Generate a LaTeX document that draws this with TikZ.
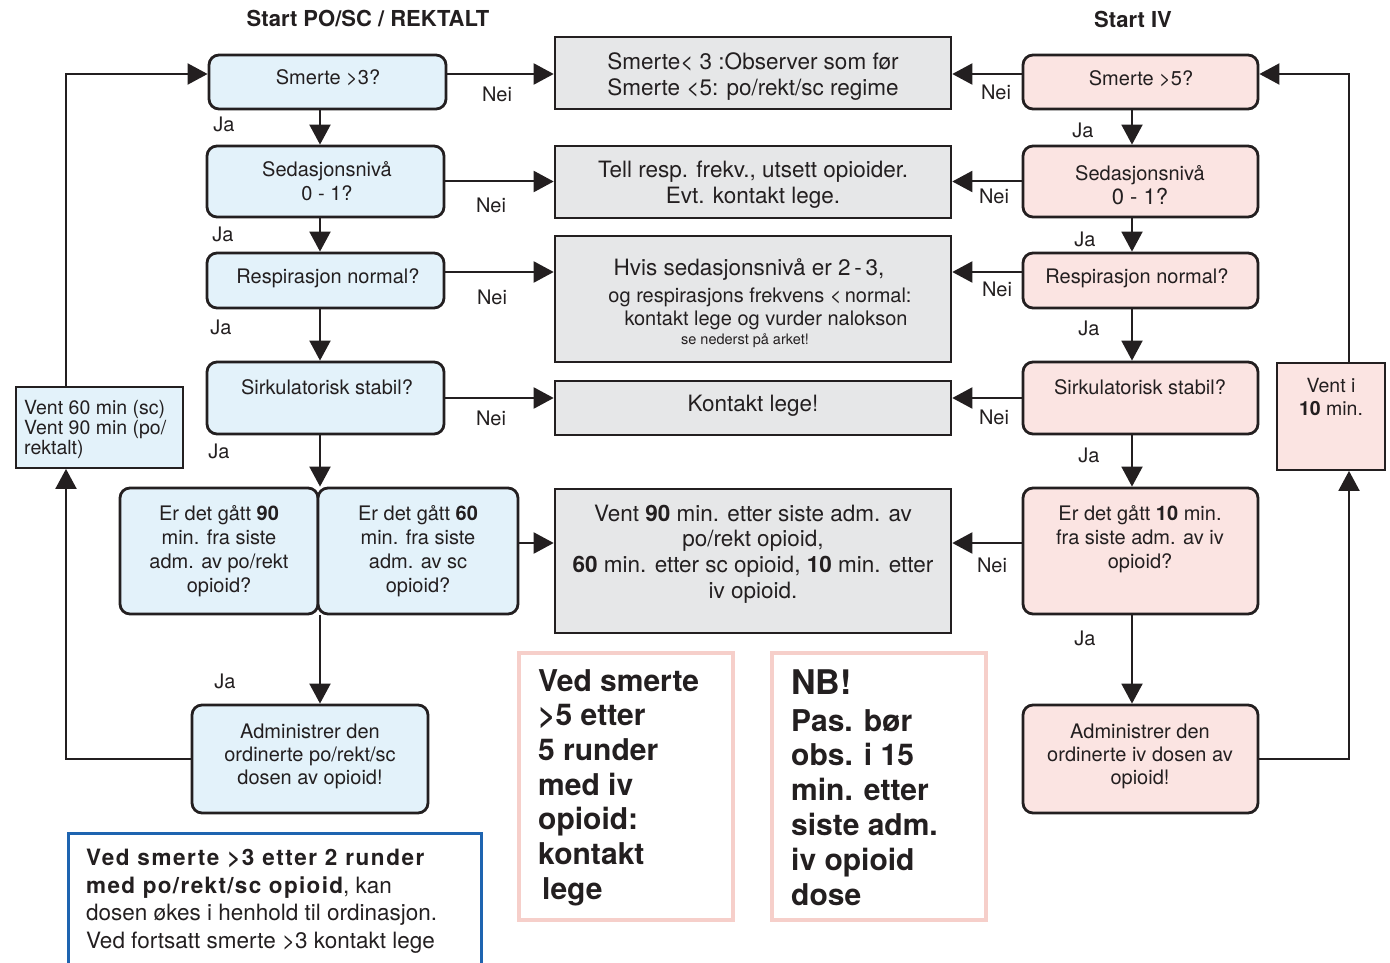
\documentclass[tikz,border=0pt]{standalone}
\usepackage{fontspec}
\setmainfont{TeX Gyre Heros}
\usetikzlibrary{arrows.meta}
\definecolor{bluefill}{HTML}{E3F2FA}
\definecolor{pinkfill}{HTML}{FBE4E2}
\definecolor{greyfill}{HTML}{E6E7E8}
\definecolor{ink}{HTML}{231F20}
\definecolor{blueedge}{HTML}{1E64B0}
\definecolor{pinkedge}{HTML}{F6CFCA}
\newcommand\mkbox[6]{\pgfmathsetmacro\mkbW{#5-#3}\pgfmathsetmacro\mkbH{#6-#4}%
  \node[#1, minimum width=\mkbW pt, minimum height=\mkbH pt] (#2) at ({(#3+#5)/2},{(#4+#6)/2}) {};}
\begin{document}
\begin{tikzpicture}[x=1pt,y=-1pt,
  txt/.style={text=ink, inner sep=0pt, align=center, font=\fontsize{20}{24}\selectfont},
  gtxt/.style={text=ink, inner sep=0pt, align=center, font=\fontsize{22.5}{26}\selectfont},
  lbl/.style={text=ink, inner sep=0pt, font=\fontsize{20}{24}\selectfont},
  ttl/.style={text=ink, inner sep=0pt, font=\fontsize{22}{26}\selectfont\bfseries},
  bluebox/.style={draw=ink, fill=bluefill, line width=2.8pt, rounded corners=10pt, inner sep=0pt},
  pinkbox/.style={bluebox, fill=pinkfill},
  greybox/.style={draw=ink, fill=greyfill, line width=2.6pt, inner sep=0pt},
  waitblue/.style={draw=ink, fill=bluefill, line width=1.8pt, inner sep=0pt},
  waitpink/.style={waitblue, fill=pinkfill},
  notepink/.style={draw=pinkedge, line width=4pt, inner sep=0pt},
  noteblue/.style={draw=blueedge, line width=3pt, inner sep=0pt},
  arr/.style={draw=ink, line width=2pt, -{Triangle[length=20pt,width=21pt]}},
]
\useasboundingbox (0,0) rectangle (1390,963);
% boxes
\mkbox{bluebox}{b1}{209}{55}{446}{109}
\mkbox{bluebox}{b2}{207}{146}{444}{217}
\mkbox{bluebox}{b3}{207}{253}{444}{308}
\mkbox{bluebox}{b4}{207}{362}{444}{434}
\mkbox{bluebox}{b5}{120}{488}{318}{614}
\mkbox{bluebox}{b6}{318}{488}{518}{614}
\mkbox{bluebox}{a1}{192}{705}{428}{813}
\mkbox{waitblue}{v1}{16}{387}{183}{468}
\mkbox{greybox}{g1}{555}{37}{951}{109}
\mkbox{greybox}{g2}{555}{146}{951}{218}
\mkbox{greybox}{g3}{555}{236}{951}{362}
\mkbox{greybox}{g4}{555}{381}{951}{435}
\mkbox{greybox}{g5}{555}{489}{951}{633}
\mkbox{pinkbox}{p1}{1023}{55}{1258}{109}
\mkbox{pinkbox}{p2}{1023}{146}{1258}{217}
\mkbox{pinkbox}{p3}{1023}{253}{1258}{308}
\mkbox{pinkbox}{p4}{1023}{362}{1258}{434}
\mkbox{pinkbox}{p5}{1023}{488}{1258}{614}
\mkbox{pinkbox}{p6}{1023}{705}{1258}{813}
\mkbox{waitpink}{v2}{1277}{363}{1385}{470}
\mkbox{noteblue}{n1}{68}{833}{481}{975}
\mkbox{notepink}{n2}{519}{653}{733}{920}
\mkbox{notepink}{n3}{772}{653}{986}{920}
% lanes
\coordinate (lc) at (320,0);
\coordinate (rc) at (1132,0);
\coordinate (xl) at (66,0);
\coordinate (xr) at (1349,0);
\coordinate (row1) at (0,74);
\coordinate (row3) at (0,272);
\coordinate (row5) at (0,543);
% vertical connectors
\draw[arr] (b1.south -| lc) -- (b2.north -| lc);
\draw[arr] (b2.south -| lc) -- (b3.north -| lc);
\draw[arr] (b3.south -| lc) -- (b4.north -| lc);
\draw[arr] (b4.south -| lc) -- (b5.north -| lc);
\draw[arr] (b5.south -| lc) -- (a1.north -| lc);
\draw[arr] (p1.south -| rc) -- (p2.north -| rc);
\draw[arr] (p2.south -| rc) -- (p3.north -| rc);
\draw[arr] (p3.south -| rc) -- (p4.north -| rc);
\draw[arr] (p4.south -| rc) -- (p5.north -| rc);
\draw[arr] (p5.south -| rc) -- (p6.north -| rc);
% loops
\draw[arr] (a1.west) -| (xl |- v1.south);
\draw[arr] (xl |- v1.north) |- (b1.west |- row1);
\draw[arr] (p6.east) -| (xr |- v2.south);
\draw[arr] (xr |- v2.north) |- (p1.east |- row1);
% Nei connectors
\draw[arr] (b1.east |- row1) -- (g1.west |- row1);
\draw[arr] (b2.east) -- (g2.west |- b2.east);
\draw[arr] (b3.east |- row3) -- (g3.west |- row3);
\draw[arr] (b4.east) -- (g4.west |- b4.east);
\draw[arr] (b6.east |- row5) -- (g5.west |- row5);
\draw[arr] (p1.west |- row1) -- (g1.east |- row1);
\draw[arr] (p2.west) -- (g2.east |- p2.west);
\draw[arr] (p3.west |- row3) -- (g3.east |- row3);
\draw[arr] (p4.west) -- (g4.east |- p4.west);
\draw[arr] (p5.west |- row5) -- (g5.east |- row5);
% titles
\node[ttl] (tl) at (368,19) {Start PO/SC / REKTALT};
\node[ttl] (tr) at (1133,19) {Start IV};
% box texts left
\node[txt] (tb1) at (328,78) {Smerte >3?};
\node[txt] (tb2) at (327,181) {Sedasjonsnivå\\0 - 1?};
\node[txt] (tb3) at (328,278) {Respirasjon normal?};
\node[txt] (tb4) at (327,387) {Sirkulatorisk stabil?};
\node[txt] (tb5) at (219,551) {Er det gått \textbf{90}\\min. fra siste\\adm. av po/rekt\\opioid?};
\node[txt] (tb6) at (418,551) {Er det gått \textbf{60}\\min. fra siste\\adm. av sc\\opioid?};
\node[txt,font=\fontsize{20}{23}\selectfont] (ta1) at (310,756) {Administrer den\\ordinerte po/rekt/sc\\dosen av opioid!};
\node[txt,align=left,anchor=north west,font=\fontsize{19.5}{20}\selectfont] (tv1) at (24,400) {Vent 60 min (sc)\\Vent 90 min (po/\\rektalt)};
% box texts right
\node[txt] (tp1) at (1141,79) {Smerte >5?};
\node[txt] (tp2) at (1140,185) {Sedasjonsnivå\\{\fontsize{22}{26}\selectfont 0 - 1?}};
\node[txt] (tp3) at (1137,278) {Respirasjon normal?};
\node[txt] (tp4) at (1140,387) {Sirkulatorisk stabil?};
\node[txt] (tp5) at (1140,539) {Er det gått \textbf{10} min.\\fra siste adm. av iv\\opioid?};
\node[txt,font=\fontsize{20}{23}\selectfont] (tp6) at (1140,756) {Administrer den\\ordinerte iv dosen av\\opioid!};
\node[txt,font=\fontsize{19.5}{23}\selectfont] (tv2) at (1331,397) {Vent i\\\textbf{10} min.};
% grey texts
\node[gtxt] (tg1) at (753,77) {Smerte< 3 :Observer som før\\Smerte <5: po/rekt/sc regime};
\node[gtxt] (tg2) at (753,185) {Tell resp. frekv., utsett opioider.\\Evt. kontakt lege.};
\node[gtxt] (tg3a) at (749,270) {Hvis sedasjonsnivå er 2\,-\,3,};
\node[txt] (tg3b) at (760,297) {og respirasjons frekvens <\,normal:};
\node[txt] (tg3c) at (766,320) {kontakt lege og vurder nalokson};
\node[txt,font=\fontsize{14.5}{17}\selectfont] (tg3d) at (745,341) {se nederst på arket!};
\node[gtxt] (tg4) at (753,406) {Kontakt lege!};
\node[gtxt,font=\fontsize{22.5}{25.7}\selectfont] (tg5) at (753,554) {Vent \textbf{90} min. etter siste adm. av\\po/rekt opioid,\\\textbf{60} min. etter sc opioid, \textbf{10} min. etter\\iv opioid.};
% Ja / Nei labels
\node[lbl] (j1) at (224,124) {Ja};
\node[lbl] (j2) at (223,234) {Ja};
\node[lbl] (j3) at (221,327) {Ja};
\node[lbl] (j4) at (219,451) {Ja};
\node[lbl] (j5) at (225,681) {Ja};
\node[lbl] (j6) at (1083,130) {Ja};
\node[lbl] (j7) at (1085,239) {Ja};
\node[lbl] (j8) at (1089,328) {Ja};
\node[lbl] (j9) at (1089,455) {Ja};
\node[lbl] (j10) at (1085,638) {Ja};
\node[lbl] (m1) at (497,94) {Nei};
\node[lbl] (m2) at (491,205) {Nei};
\node[lbl] (m3) at (492,297) {Nei};
\node[lbl] (m4) at (491,418) {Nei};
\node[lbl] (m5) at (996,92) {Nei};
\node[lbl] (m6) at (994,196) {Nei};
\node[lbl] (m7) at (997,289) {Nei};
\node[lbl] (m8) at (994,417) {Nei};
\node[lbl] (m9) at (992,565) {Nei};
% notes
\node[text=ink,inner sep=0pt,align=left,anchor=north west,font=\fontsize{22.5}{27.5}\selectfont] (tn1) at (86,849)
 {{\bfseries\addfontfeature{LetterSpace=7}Ved smerte >3 etter 2 runder}\\{\bfseries\addfontfeature{LetterSpace=6}med po/rekt/sc opioid}, kan\\dosen økes i henhold til ordinasjon.\\Ved fortsatt smerte >3 kontakt lege};
\node[text=ink,inner sep=0pt,align=left,anchor=north west,font=\fontsize{30}{34.7}\selectfont\bfseries] (tn2) at (538,669)
 {Ved smerte\\>5 etter\\5 runder\\med iv\\opioid:\\kontakt\\\hspace*{4pt}lege};
\node[text=ink,inner sep=0pt,anchor=north west,font=\fontsize{34}{40}\selectfont\bfseries] (tn3a) at (791,670) {NB!};
\node[text=ink,inner sep=0pt,align=left,anchor=north west,font=\fontsize{30}{34.8}\selectfont\bfseries] (tn3b) at (791,709)
 {Pas. bør\\obs. i 15\\min. etter\\siste adm.\\iv opioid\\dose};
\end{tikzpicture}
\end{document}
